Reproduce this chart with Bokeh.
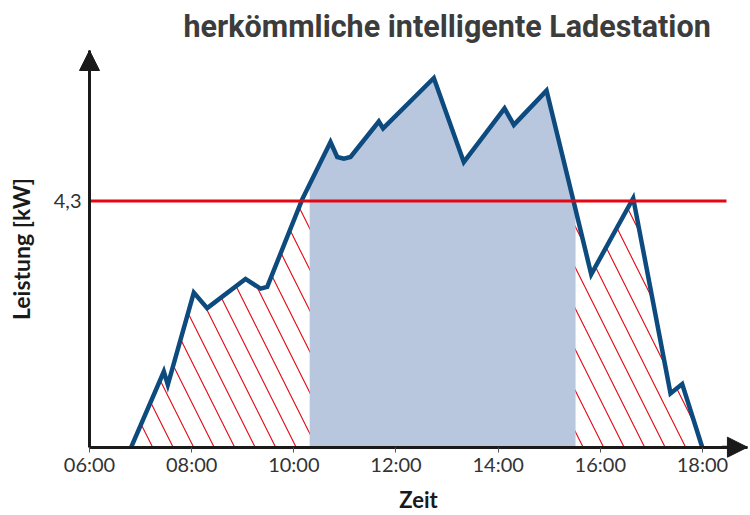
import numpy as np
from bokeh.plotting import figure
from bokeh.models import FixedTicker, Arrow, NormalHead, Range1d
from bokeh.embed import file_html
from bokeh.resources import INLINE

# ---- data ----
title_text = "herkömmliche intelligente Ladestation"
x_label = "Zeit"
y_label = "Leistung [kW]"
hour_ticks = [6, 8, 10, 12, 14, 16, 18]
hour_labels = ["06:00", "08:00", "10:00", "12:00", "14:00", "16:00", "18:00"]
limit_kw = 4.3
limit_label = "4,3"
limit_line_end = 18.47

times = [6.816, 7.455, 7.533, 8.042, 8.304, 9.054, 9.348, 9.479, 10.164,
         10.718, 10.85, 10.98, 11.11, 11.664, 11.748, 12.741, 13.328,
         14.125, 14.307, 14.947, 15.475, 15.822, 16.644, 17.374, 17.603, 17.995]
power = [0.0, 1.32, 1.09, 2.70, 2.43, 2.94, 2.77, 2.80, 4.33,
         5.33, 5.07, 5.04, 5.07, 5.69, 5.57, 6.45, 4.98,
         5.92, 5.63, 6.23, 4.30, 3.02, 4.35, 0.94, 1.105, 0.0]
smart_start = 10.31
smart_end = 15.515

# axis extents (data units)
x_min, x_max = 6.0, 18.88
y_min, y_max = 0.0, 6.93

BLUE = "#0d4b7f"
FILL = "#b8c6de"
RED = "#e30613"
AXIS = "#1a1a1a"
TEXT = "#333333"

p = figure(width=748, height=513,
           x_range=Range1d(4.2576, 18.901), y_range=Range1d(-1.158, 7.0),
           output_backend="svg", toolbar_location=None,
           min_border_left=0, min_border_right=0,
           min_border_top=46, min_border_bottom=0)
p.outline_line_color = None
p.grid.visible = False
p.background_fill_color = "white"
p.border_fill_color = "white"

# title
p.title.text = title_text
p.title.align = "left"
p.title.offset = 183
p.title.text_font = "Roboto"
p.title.text_font_size = "30.5px"
p.title.text_font_style = "bold"
p.title.text_color = "#3c3c3c"
p.title.standoff = 6

# x axis, drawn at y = 0
xa = p.xaxis[0]
xa.fixed_location = y_min
xa.bounds = (x_min, x_max)
xa.ticker = FixedTicker(ticks=hour_ticks)
xa.major_label_overrides = {t: l for t, l in zip(hour_ticks, hour_labels)}
xa.axis_line_width = 3
xa.axis_line_color = AXIS
xa.major_tick_in = 0
xa.major_tick_out = 5
xa.major_tick_line_color = "#555555"
xa.minor_tick_line_color = None
xa.major_label_standoff = 0
xa.major_label_text_font = "Lato"
xa.major_label_text_font_size = "20px"
xa.major_label_text_color = TEXT
xa.axis_label = x_label
xa.axis_label_text_font = "Lato"
xa.axis_label_text_font_size = "22px"
xa.axis_label_text_font_style = "bold"
xa.axis_label_text_color = AXIS
xa.axis_label_standoff = 6

# y axis, drawn at x = 6
ya = p.yaxis[0]
ya.fixed_location = x_min
ya.bounds = (y_min, y_max)
ya.ticker = FixedTicker(ticks=[limit_kw])
ya.major_label_overrides = {limit_kw: limit_label}
ya.axis_line_width = 3
ya.axis_line_color = AXIS
ya.major_tick_in = 0
ya.major_tick_out = 0
ya.major_tick_line_color = None
ya.minor_tick_line_color = None
ya.major_label_standoff = 8
ya.major_label_text_font = "Lato"
ya.major_label_text_font_size = "20px"
ya.major_label_text_color = TEXT
ya.axis_label = y_label
ya.axis_label_text_font = "Lato"
ya.axis_label_text_font_size = "23px"
ya.axis_label_text_font_style = "bold"
ya.axis_label_text_color = AXIS
ya.axis_label_standoff = 16

# hatched area (whole curve)
p.varea(x=times, y1=0, y2=power, fill_color=None,
        hatch_pattern="left_diagonal_line", hatch_color=RED,
        hatch_scale=41, hatch_weight=1.1)

# blue area between smart_start and smart_end
sx = [smart_start] + [t for t in times if smart_start < t < smart_end] + [smart_end]
sy = [float(v) for v in np.interp(sx, times, power)]
p.varea(x=sx, y1=0, y2=sy, fill_color=FILL)

# curve
p.line(times, power, line_width=4.5, line_color=BLUE, line_join="miter")

# limit line
p.line([x_min, limit_line_end], [limit_kw, limit_kw], line_width=3, line_color=RED)

# axis arrow heads
p.add_layout(Arrow(end=NormalHead(size=20, fill_color=AXIS, line_color=AXIS),
                   x_start=x_min, y_start=y_max - 0.5, x_end=x_min, y_end=y_max,
                   line_width=3, line_color=AXIS))
p.add_layout(Arrow(end=NormalHead(size=20, fill_color=AXIS, line_color=AXIS),
                   x_start=x_max - 0.5, y_start=y_min, x_end=x_max, y_end=y_min,
                   line_width=3, line_color=AXIS))

open("out.html", "w").write(file_html(p, INLINE))
